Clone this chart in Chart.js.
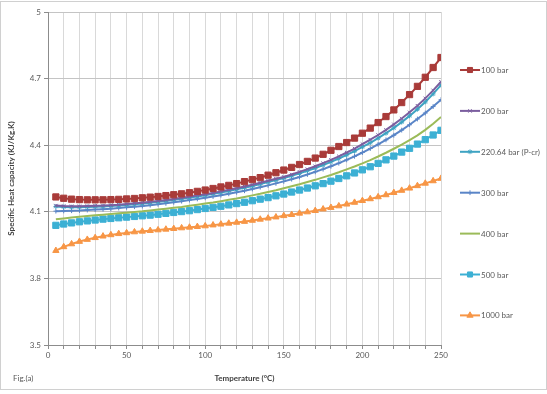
<!DOCTYPE html>
<html>
<head>
<meta charset="utf-8">
<script src="https://cdn.jsdelivr.net/npm/chart.js@4/dist/chart.umd.min.js"></script>
<style>
  html, body { margin: 0; padding: 0; background: #fff; }
  canvas { display: block; }
</style>
</head>
<body>
<canvas id="chart" width="547" height="394"></canvas>
<script>
// ===== DATA =====

const temps = [5, 10, 15, 20, 25, 30, 35, 40, 45, 50,
  55, 60, 65, 70, 75, 80, 85, 90, 95, 100,
  105, 110, 115, 120, 125, 130, 135, 140, 145, 150,
  155, 160, 165, 170, 175, 180, 185, 190, 195, 200,
  205, 210, 215, 220, 225, 230, 235, 240, 245, 250];

const cp100 = [4.167, 4.161, 4.157, 4.155, 4.154, 4.154, 4.154, 4.155, 4.156, 4.158,
  4.160, 4.163, 4.166, 4.169, 4.173, 4.177, 4.181, 4.186, 4.192, 4.198,
  4.205, 4.212, 4.219, 4.227, 4.236, 4.245, 4.254, 4.265, 4.276, 4.288,
  4.300, 4.313, 4.327, 4.342, 4.359, 4.377, 4.394, 4.412, 4.432, 4.454,
  4.477, 4.502, 4.529, 4.559, 4.592, 4.628, 4.665, 4.706, 4.750, 4.795];

const cp200 = [4.128, 4.126, 4.125, 4.125, 4.126, 4.127, 4.128, 4.130, 4.132, 4.135,
  4.138, 4.141, 4.145, 4.149, 4.153, 4.158, 4.163, 4.168, 4.174, 4.179,
  4.185, 4.192, 4.199, 4.206, 4.214, 4.222, 4.231, 4.240, 4.249, 4.257,
  4.268, 4.280, 4.292, 4.305, 4.319, 4.334, 4.350, 4.367, 4.385, 4.405,
  4.425, 4.446, 4.469, 4.494, 4.520, 4.548, 4.578, 4.611, 4.647, 4.686];

const cp220 = [4.124, 4.122, 4.121, 4.121, 4.122, 4.123, 4.124, 4.126, 4.128, 4.131,
  4.134, 4.137, 4.141, 4.145, 4.149, 4.154, 4.159, 4.164, 4.169, 4.175,
  4.181, 4.187, 4.194, 4.201, 4.208, 4.216, 4.225, 4.234, 4.243, 4.252,
  4.262, 4.273, 4.285, 4.297, 4.311, 4.325, 4.340, 4.356, 4.373, 4.392,
  4.411, 4.432, 4.454, 4.478, 4.504, 4.532, 4.562, 4.595, 4.631, 4.671];

const cp300 = [4.103, 4.104, 4.105, 4.106, 4.108, 4.110, 4.112, 4.114, 4.117, 4.120,
  4.123, 4.126, 4.130, 4.134, 4.138, 4.143, 4.148, 4.153, 4.158, 4.163,
  4.169, 4.175, 4.181, 4.188, 4.195, 4.203, 4.211, 4.219, 4.228, 4.237,
  4.247, 4.257, 4.268, 4.280, 4.292, 4.305, 4.319, 4.334, 4.350, 4.367,
  4.385, 4.404, 4.424, 4.445, 4.468, 4.492, 4.518, 4.545, 4.574, 4.605];

const cp400 = [4.066, 4.070, 4.074, 4.078, 4.081, 4.084, 4.087, 4.090, 4.093, 4.096,
  4.099, 4.102, 4.106, 4.110, 4.114, 4.118, 4.122, 4.127, 4.132, 4.137,
  4.142, 4.148, 4.154, 4.160, 4.167, 4.174, 4.181, 4.189, 4.197, 4.206,
  4.215, 4.224, 4.234, 4.244, 4.255, 4.266, 4.278, 4.291, 4.304, 4.318,
  4.333, 4.349, 4.366, 4.384, 4.403, 4.423, 4.444, 4.469, 4.497, 4.527];

const cp500 = [4.039, 4.045, 4.050, 4.055, 4.059, 4.063, 4.067, 4.070, 4.073, 4.076,
  4.079, 4.082, 4.085, 4.089, 4.093, 4.097, 4.101, 4.105, 4.110, 4.115,
  4.120, 4.125, 4.131, 4.137, 4.143, 4.150, 4.157, 4.164, 4.172, 4.180,
  4.189, 4.198, 4.207, 4.217, 4.227, 4.238, 4.250, 4.262, 4.275, 4.289,
  4.303, 4.318, 4.334, 4.351, 4.369, 4.386, 4.405, 4.425, 4.446, 4.467];

const cp1000 = [3.925, 3.942, 3.955, 3.966, 3.975, 3.983, 3.990, 3.996, 4.001, 4.005,
  4.009, 4.012, 4.015, 4.018, 4.021, 4.024, 4.027, 4.030, 4.033, 4.036,
  4.040, 4.044, 4.048, 4.052, 4.056, 4.061, 4.066, 4.071, 4.076, 4.082,
  4.087, 4.093, 4.099, 4.105, 4.112, 4.119, 4.126, 4.134, 4.142, 4.150,
  4.158, 4.167, 4.176, 4.186, 4.196, 4.206, 4.217, 4.228, 4.239, 4.250];

const seriesNames = ['100 bar', '200 bar', '220.64 bar (P-cr)', '300 bar', '400 bar', '500 bar', '1000 bar'];
const seriesValues = [cp100, cp200, cp220, cp300, cp400, cp500, cp1000];

// ===== STYLE =====

const FONT = 'Lato, "Open Sans", sans-serif';
const TEXT = '#595959';

const styles = [
  { color: '#a93b39', point: 'rect', radius: 4.4 },
  { color: '#7b5e9f', point: 'crossRot', radius: 2.4 },
  { color: '#3ea3c2', point: 'star', radius: 2.4 },
  { color: '#5a85c7', point: 'cross', radius: 2.4 },
  { color: '#9bbb59', point: 'circle', radius: 0 },
  { color: '#3cb0d4', point: 'rect', radius: 4.4 },
  { color: '#f79646', point: 'triangle', radius: 3.6 }
];

const datasets = seriesNames.map((name, i) => ({
  label: name,
  data: temps.map((t, j) => ({ x: t, y: seriesValues[i][j] })),
  borderColor: styles[i].color,
  backgroundColor: styles[i].color,
  pointBackgroundColor: styles[i].color,
  pointBorderColor: styles[i].color,
  pointStyle: styles[i].point,
  pointRadius: styles[i].radius,
  pointBorderWidth: 1,
  borderWidth: 2,
  tension: 0
}));

// chart frame, "Fig.(a)" note and side legend
const decor = {
  id: 'decor',
  afterDraw(chart) {
    const ctx = chart.ctx;
    ctx.save();
    ctx.strokeStyle = '#d0d0d0';
    ctx.lineWidth = 1;
    ctx.strokeRect(0.5, 1.5, 546, 388);

    ctx.fillStyle = TEXT;
    ctx.font = '8px ' + FONT;
    ctx.textAlign = 'left';
    ctx.textBaseline = 'middle';
    ctx.fillText('Fig.(a)', 13, 378);

    chart.data.datasets.forEach((ds, i) => {
      const y = 70 + i * 40.9;
      ctx.strokeStyle = ds.borderColor;
      ctx.lineWidth = 2;
      ctx.beginPath();
      ctx.moveTo(460, y);
      ctx.lineTo(480, y);
      ctx.stroke();
      if (ds.pointRadius > 0 && Chart.helpers && Chart.helpers.drawPoint) {
        ctx.fillStyle = ds.pointBackgroundColor;
        ctx.strokeStyle = ds.pointBorderColor;
        ctx.lineWidth = 1;
        Chart.helpers.drawPoint(ctx, { pointStyle: ds.pointStyle, radius: Math.min(ds.pointRadius, 3.6), rotation: 0, borderWidth: 1 }, 470, y);
      }
      ctx.fillStyle = TEXT;
      ctx.font = '8px ' + FONT;
      ctx.fillText(ds.label, 481, y + 0.5);
    });
    ctx.restore();
  }
};

new Chart(document.getElementById('chart'), {
  type: 'line',
  data: { datasets },
  plugins: [decor],
  options: {
    responsive: false,
    animation: false,
    devicePixelRatio: 1,
    layout: { padding: { left: 0, top: 12, right: 106, bottom: 0 } },
    plugins: {
      legend: { display: false },
      tooltip: { enabled: false }
    },
    scales: {
      x: {
        type: 'linear',
        min: 0,
        max: 250,
        afterFit(scale) { scale.height = 49; },
        ticks: {
          stepSize: 10,
          autoSkip: false,
          maxRotation: 0,
          padding: 2,
          color: TEXT,
          font: { family: FONT, size: 8 },
          callback: v => (v % 50 === 0 ? String(v) : '')
        },
        grid: { color: '#d9d9d9', tickColor: '#8c8c8c', tickLength: 4 },
        border: { color: '#8c8c8c' },
        title: {
          display: true,
          text: 'Temperature (°C)',
          color: '#404040',
          font: { family: FONT, size: 8, weight: 'bold' },
          padding: { top: 0, bottom: 11 }
        }
      },
      y: {
        min: 3.5,
        max: 5,
        afterFit(scale) { scale.width = 48; },
        ticks: {
          stepSize: 0.3,
          padding: 3,
          color: TEXT,
          font: { family: FONT, size: 8 },
          callback: v => String(Math.round(v * 10) / 10)
        },
        grid: { color: '#c4c4c4', tickColor: '#8c8c8c', tickLength: 4 },
        border: { color: '#8c8c8c' },
        title: {
          display: true,
          text: 'Specific Heat capacity (KJ/Kg.K)',
          color: '#404040',
          font: { family: FONT, size: 8, weight: 'bold' },
          padding: { top: 7, bottom: 0 }
        }
      }
    }
  }
});
</script>
</body>
</html>
